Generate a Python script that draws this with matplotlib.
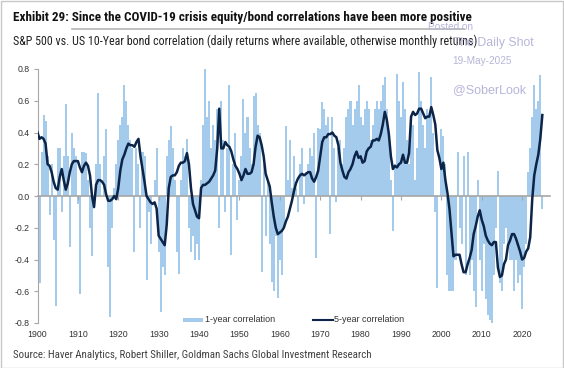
import numpy as np
import matplotlib
matplotlib.use('Agg')
import matplotlib.pyplot as plt
from matplotlib import font_manager as fm
from matplotlib.patches import Rectangle
from matplotlib.lines import Line2D

# 1-year correlation, sampled every half year from 1900.0
corr_1y = [
    -0.56, -0.55, 0.28, 0.51, 0.47, 0.25, -0.12, 0.20, -0.28, -0.69,   # 1900-1904.5
    0.30, 0.30, -0.10, 0.25, 0.58, 0.25, -0.32, 0.40, 0.30, 0.25,      # 1905-1909.5
    -0.05, -0.62, 0.28, 0.28, 0.27, 0.10, -0.20, -0.38, 0.00, 0.20,    # 1910-1914.5
    0.65, 0.20, 0.00, 0.25, 0.42, -0.45, -0.76, -0.20, 0.05, 0.20,     # 1915-1919.5
    0.35, 0.45, 0.50, 0.70, 0.60, 0.45, 0.35, 0.30, -0.35, 0.30,       # 1920-1924.5
    0.20, -0.20, 0.28, 0.25, -0.53, -0.10, -0.30, 0.00, 0.10, 0.30,    # 1925-1929.5
    -0.35, -0.73, -0.45, -0.50, 0.25, 0.35, 0.44, 0.30, 0.10, -0.35,   # 1930-1934.5
    -0.49, 0.10, 0.30, 0.25, 0.36, -0.20, -0.35, -0.25, -0.40, -0.30,  # 1935-1939.5
    -0.40, 0.10, 0.45, 0.80, 0.50, 0.60, 0.30, 0.45, 0.35, 0.55,       # 1940-1944.5
    -0.20, 0.60, 0.35, -0.10, 0.30, 0.70, -0.37, 0.20, 0.40, -0.15,    # 1945-1949.5
    0.10, 0.25, 0.61, 0.40, 0.50, 0.30, 0.20, 0.63, 0.65, 0.45,        # 1950-1954.5
    0.40, -0.48, 0.20, -0.25, 0.10, -0.30, -0.54, -0.60, -0.25, -0.64, # 1955-1959.5
    -0.40, -0.50, -0.20, 0.44, 0.10, 0.35, 0.05, 0.25, 0.05, -0.10,    # 1960-1964.5
    0.20, 0.30, -0.05, 0.15, 0.20, 0.30, 0.25, 0.40, -0.39, 0.43,      # 1965-1969.5
    0.42, 0.59, 0.55, 0.45, 0.50, -0.24, 0.50, 0.30, -0.04, 0.30,      # 1970-1974.5
    0.35, 0.20, 0.30, 0.50, 0.55, 0.60, 0.45, 0.55, 0.60, 0.70,        # 1975-1979.5
    0.50, 0.45, 0.55, 0.60, 0.55, 0.35, 0.45, 0.55, 0.60, 0.55,        # 1980-1984.5
    0.60, 0.70, 0.75, 0.55, 0.40, 0.10, -0.22, 0.20, 0.77, 0.60,       # 1985-1989.5
    0.50, 0.72, 0.55, 0.35, 0.20, 0.50, 0.45, 0.10, 0.30, 0.78,        # 1990-1994.5
    0.60, 0.45, 0.30, 0.55, 0.50, 0.75, 0.40, -0.10, -0.58, 0.00,      # 1995-1999.5
    0.42, 0.38, 0.20, -0.50, -0.60, -0.60, -0.60, -0.40, 0.28, -0.20,  # 2000-2004.5
    -0.30, 0.25, -0.50, 0.28, -0.50, -0.40, -0.60, -0.70, 0.10, -0.40, # 2005-2009.5
    -0.60, -0.30, -0.65, -0.75, -0.78, -0.80, -0.50, -0.20, 0.16, -0.55,  # 2010-2014.5
    -0.60, -0.30, -0.20, -0.30, -0.40, -0.40, -0.60, -0.40, -0.55, -0.50, # 2015-2019.5
    -0.71, -0.45, -0.30, 0.15, 0.30, 0.50, 0.70, 0.55, 0.60, 0.76,     # 2020-2024.5
    -0.08,                                                             # 2025
]

# 5-year correlation, sampled every half year from 1900.0
corr_5y = [
    0.40, 0.36, 0.37, 0.36, 0.33, 0.20, 0.19, 0.15, 0.09, 0.05,
    0.04, 0.12, 0.17, 0.10, 0.04, 0.08, 0.15, 0.20, 0.22, 0.22,
    0.22, 0.18, 0.15, 0.19, 0.21, 0.19, 0.13, 0.00, -0.07, 0.07,
    0.10, 0.10, 0.09, 0.07, 0.01, -0.03, -0.03, -0.02, 0.00, -0.02,
    0.05, 0.16, 0.23, 0.26, 0.30, 0.33, 0.32, 0.32, 0.31, 0.34,
    0.36, 0.25, 0.17, 0.09, 0.00, -0.02, -0.04, -0.05, -0.04, -0.08,
    -0.25, -0.27, -0.29, -0.31, -0.18, 0.05, 0.12, 0.13, 0.13, 0.15,
    0.19, 0.21, 0.21, 0.22, 0.27, 0.20, 0.05, -0.05, -0.09, -0.13,
    -0.14, 0.05, 0.07, 0.07, 0.08, 0.09, 0.11, 0.13, 0.16, 0.30,
    0.55, 0.30, 0.30, 0.34, 0.32, 0.31, 0.28, 0.23, 0.19, 0.17,
    0.14, 0.10, 0.13, 0.17, 0.14, 0.14, 0.15, 0.20, 0.31, 0.38,
    0.37, 0.32, 0.25, 0.14, 0.10, 0.06, -0.04, -0.13, -0.20, -0.24,
    -0.23, -0.22, -0.20, -0.16, -0.13, -0.08, -0.03, 0.03, 0.08, 0.11,
    0.13, 0.14, 0.13, 0.14, 0.15, 0.15, 0.11, 0.09, 0.12, 0.16,
    0.25, 0.34, 0.37, 0.37, 0.39, 0.39, 0.40, 0.38, 0.37, 0.32,
    0.21, 0.16, 0.12, 0.11, 0.15, 0.17, 0.20, 0.25, 0.28, 0.24,
    0.25, 0.21, 0.22, 0.28, 0.30, 0.31, 0.35, 0.35, 0.36, 0.35,
    0.39, 0.45, 0.53, 0.48, 0.39, 0.25, 0.17, 0.19, 0.18, 0.20,
    0.21, 0.26, 0.21, 0.21, 0.27, 0.50, 0.53, 0.51, 0.52, 0.55,
    0.55, 0.52, 0.49, 0.50, 0.50, 0.56, 0.51, 0.45, 0.29, 0.24,
    0.17, 0.21, 0.10, 0.02, -0.08, -0.23, -0.38, -0.37, -0.37, -0.37,
    -0.43, -0.48, -0.48, -0.43, -0.39, -0.34, -0.24, -0.19, -0.13, -0.09,
    -0.15, -0.19, -0.25, -0.28, -0.30, -0.31, -0.29, -0.29, -0.45, -0.51,
    -0.50, -0.43, -0.40, -0.31, -0.28, -0.24, -0.24, -0.27, -0.31, -0.35,
    -0.40, -0.39, -0.35, -0.33, -0.26, -0.02, 0.13, 0.20, 0.26, 0.36,
    0.51,
]

start_year = 1900
step = 0.5
decades = list(range(1900, 2030, 10))
y_ticks = [-0.8, -0.6, -0.4, -0.2, 0.0, 0.2, 0.4, 0.6, 0.8]

bar_color = '#a4caec'
line_color = '#0b2447'
axis_gray = '#a6a6a6'
mark_color = '#b7b5d9'

t1 = start_year + step * np.arange(len(corr_1y))
t5 = start_year + step * np.arange(len(corr_5y))

plt.rcParams['font.family'] = ['Liberation Sans', 'DejaVu Sans']


def find_narrow(bold):
    # look for a condensed / narrow face among the installed fonts
    prefs = ['Liberation Sans Narrow', 'Roboto Condensed', 'Open Sans Condensed',
             'Noto Sans', 'DejaVu Sans', 'Open Sans']
    for name in prefs:
        for f in fm.fontManager.ttflist:
            w = f.weight if isinstance(f.weight, int) else (700 if 'bold' in str(f.weight) else 400)
            if f.name != name or f.style != 'normal':
                continue
            if (w >= 600) != bold:
                continue
            if 'Narrow' in f.name or 'Condensed' in f.name or f.stretch in ('condensed', 'semi-condensed'):
                return fm.FontProperties(fname=f.fname)
    return fm.FontProperties(family=['Liberation Sans', 'DejaVu Sans'],
                             weight='bold' if bold else 'normal')


fp_bold = find_narrow(True)
fp_reg = find_narrow(False)

W, H = 564, 368
fig = plt.figure(figsize=(W / 100, H / 100), dpi=100)
fig.patch.set_facecolor('white')

ax = fig.add_axes([37.5 / W, 1 - 323 / H, (550 - 37.5) / W, (323 - 69) / H])
ax.bar(t1, corr_1y, width=step, color=bar_color, linewidth=0, zorder=1)
ax.plot(t5, corr_5y, color=line_color, linewidth=1.8, zorder=3)

ax.set_xlim(1900, 2026.9)
ax.set_ylim(-0.8, 0.8)
ax.set_yticks(y_ticks)
ax.set_yticklabels(['%.1f' % v for v in y_ticks])

for s in ['top', 'right']:
    ax.spines[s].set_visible(False)
ax.spines['left'].set_color(axis_gray)
ax.spines['left'].set_linewidth(0.8)
ax.spines['bottom'].set_position(('data', 0))
ax.spines['bottom'].set_color(axis_gray)
ax.spines['bottom'].set_linewidth(1.2)
ax.spines['bottom'].set_zorder(2)
ax.set_xticks(decades)
ax.tick_params(axis='x', direction='out', length=3, color=axis_gray,
               labelbottom=False)
ax.tick_params(axis='y', direction='out', length=3, color=axis_gray,
               labelsize=6.3, labelcolor='#333333', pad=2.5)

sec = ax.secondary_xaxis(0)
sec.set_xticks(decades)
sec.set_xticklabels([str(d) for d in decades])
sec.tick_params(length=0, labelsize=6.3, labelcolor='#333333', pad=5)
sec.spines['bottom'].set_visible(False)

# legend
fig.add_artist(Rectangle((182.7 / W, 1 - 321.5 / H), 20.5 / W, 4 / H,
                         transform=fig.transFigure, color=bar_color, lw=0))
fig.text(205 / W, 1 - 319.5 / H, '1-year correlation', fontsize=6.5,
         color='#333333', va='center', ha='left')
fig.add_artist(Line2D([312.7 / W, 333 / W], [1 - 319.5 / H, 1 - 319.5 / H],
                      transform=fig.transFigure, color=line_color, lw=1.5))
fig.text(334 / W, 1 - 319.5 / H, '5-year correlation', fontsize=6.5,
         color='#333333', va='center', ha='left')

# titles and source
title = fig.text(12.6 / W, 1 - 17.5 / H,
                 'Exhibit 29: Since the COVID-19 crisis equity/bond correlations have been more positive',
                 fontproperties=fp_bold, fontsize=9, color='#111111',
                 va='center', ha='left')
fig.add_artist(Line2D([72 / W, 464 / W], [1 - 29 / H, 1 - 29 / H],
                      transform=fig.transFigure, color='#b4b4b4', lw=1.2))
sub = fig.text(12.6 / W, 1 - 41.5 / H,
               'S&P 500 vs. US 10-Year bond correlation (daily returns where available, otherwise monthly returns)',
               fontproperties=fp_reg, fontsize=8.2, color='#222222',
               va='center', ha='left')
src = fig.text(12.6 / W, 1 - 355.5 / H,
               'Source: Haver Analytics, Robert Shiller, Goldman Sachs Global Investment Research',
               fontproperties=fp_reg, fontsize=7.6, color='#404040',
               va='center', ha='left')

# fit the header / footer texts to the widths seen in the reference
renderer = fig.canvas.get_renderer()
for txt, target in [(title, 460), (sub, 468), (src, 360)]:
    for _ in range(3):
        w = txt.get_window_extent(renderer).width
        txt.set_fontsize(txt.get_fontsize() * target / w)

# watermark
fig.text(428 / W, 1 - 27 / H, 'Posted on', fontsize=7.2, color=mark_color,
         va='center', ha='left')
fig.text(452.7 / W, 1 - 43 / H, 'The Daily Shot', fontsize=8.8, color=mark_color,
         va='center', ha='left')
fig.text(452.7 / W, 1 - 61 / H, '19-May-2025', fontsize=7.2, color=mark_color,
         va='center', ha='left')
fig.text(452.7 / W, 1 - 90 / H, '@SoberLook', fontsize=9, color=mark_color,
         va='center', ha='left')

# light frame around the figure
fig.add_artist(Rectangle((0.5 / W, 0.5 / H), (W - 1.5) / W, (H - 1.5) / H,
                         transform=fig.transFigure, fill=False,
                         edgecolor='#c8c8c8', lw=1))

fig.savefig('out.png', dpi=100)
